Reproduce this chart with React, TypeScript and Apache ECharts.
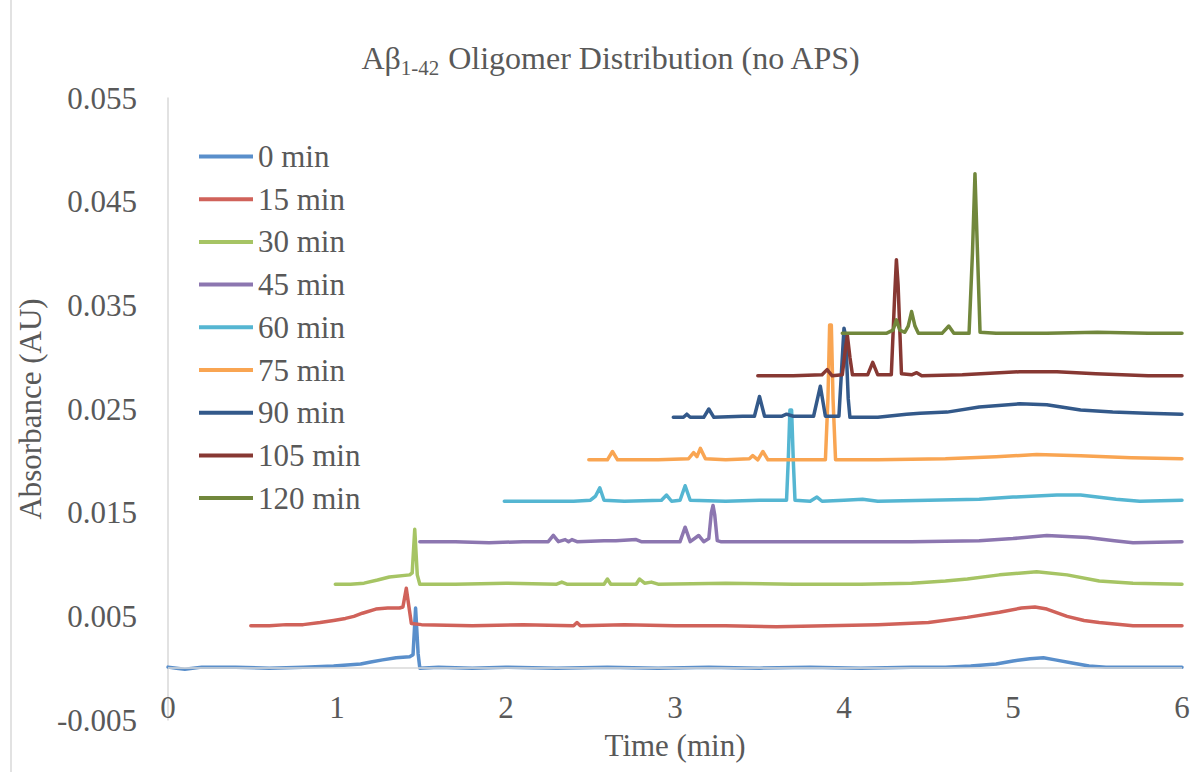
import React, { useEffect, useRef } from 'react';
import * as echarts from 'echarts';

const FONT = '"Liberation Serif", "Times New Roman", serif';
const TEXT = '#595959';
const AXIS_GRAY = '#d9d9d9';

const titleMain = 'Aβ';
const titleSub = '1-42';
const titleRest = ' Oligomer Distribution (no APS)';
const xAxisName = 'Time (min)';
const yAxisName = 'Absorbance (AU)';

const seriesNames = ['0 min', '15 min', '30 min', '45 min', '60 min', '75 min', '90 min', '105 min', '120 min'];
const seriesColors = ['#5A8FCB', '#D0625A', '#A6C464', '#8C76B0', '#55B6D2', '#F9A552', '#33598A', '#873833', '#71873C'];

const t0: [number, number][] = [
  [0, 0.0001], [0.05, 0.0], [0.1, -0.0001], [0.2, 0.0001], [0.4, 0.0001], [0.6, 0.0], [0.8, 0.0001],
  [0.98, 0.0002], [1.06, 0.0003], [1.14, 0.0004], [1.2, 0.0006], [1.27, 0.0008], [1.35, 0.001],
  [1.43, 0.0011], [1.45, 0.0013], [1.465, 0.0058], [1.48, 0.0014], [1.49, 0.0], [1.6, 0.0001],
  [1.8, 0.0], [2.0, 0.0001], [2.3, 0.0], [2.6, 0.0001], [2.9, 0.0], [3.2, 0.0001], [3.5, 0.0],
  [3.8, 0.0001], [4.1, 0.0], [4.4, 0.0001], [4.6, 0.0001], [4.75, 0.0002], [4.9, 0.0004],
  [5.0, 0.0007], [5.1, 0.0009], [5.18, 0.001], [5.25, 0.0008], [5.35, 0.0005], [5.45, 0.0002],
  [5.55, 0.0001], [5.8, 0.0001], [6, 0.0001],
];

const t15: [number, number][] = [
  [0.49, 0.0041], [0.6, 0.0041], [0.7, 0.0042], [0.8, 0.0042], [0.9, 0.0044], [0.98, 0.0046],
  [1.05, 0.0048], [1.1, 0.005], [1.15, 0.0053], [1.23, 0.0057], [1.3, 0.0058], [1.37, 0.0058],
  [1.39, 0.0059], [1.41, 0.0077], [1.425, 0.006], [1.44, 0.0043], [1.5, 0.0042], [1.8, 0.0041],
  [2.1, 0.0042], [2.4, 0.0041], [2.42, 0.0044], [2.44, 0.0041], [2.7, 0.0042], [3.0, 0.0041],
  [3.3, 0.0041], [3.6, 0.004], [3.9, 0.0041], [4.2, 0.0042], [4.5, 0.0044], [4.73, 0.0049],
  [4.92, 0.0054], [5.05, 0.0058], [5.13, 0.0059], [5.2, 0.0057], [5.32, 0.005], [5.42, 0.0046],
  [5.51, 0.0044], [5.71, 0.0041], [6, 0.0041],
];

const t30: [number, number][] = [
  [0.99, 0.0081], [1.08, 0.0081], [1.16, 0.0082], [1.24, 0.0085], [1.31, 0.0088], [1.43, 0.009],
  [1.445, 0.0092], [1.46, 0.0134], [1.475, 0.009], [1.49, 0.0081], [1.7, 0.0081], [2.0, 0.0082],
  [2.3, 0.0081], [2.33, 0.0083], [2.36, 0.0081], [2.58, 0.0081], [2.6, 0.0086], [2.62, 0.0081],
  [2.77, 0.0081], [2.79, 0.0086], [2.82, 0.0082], [2.86, 0.0083], [2.9, 0.0081], [3.3, 0.0082],
  [3.7, 0.0081], [4.1, 0.0081], [4.4, 0.0082], [4.6, 0.0084], [4.73, 0.0086], [4.92, 0.009],
  [5.14, 0.0093], [5.32, 0.009], [5.51, 0.0084], [5.71, 0.0082], [6, 0.0081],
];

const t45: [number, number][] = [
  [1.49, 0.0122], [1.7, 0.0122], [1.9, 0.0121], [2.1, 0.0122], [2.25, 0.0122], [2.28, 0.0128],
  [2.31, 0.0122], [2.35, 0.0124], [2.37, 0.0122], [2.39, 0.0124], [2.42, 0.0122], [2.58, 0.0123],
  [2.65, 0.0123], [2.77, 0.0124], [2.8, 0.0122], [3.03, 0.0122], [3.06, 0.0136], [3.09, 0.0122],
  [3.14, 0.0128], [3.17, 0.0122], [3.2, 0.0125], [3.215, 0.015], [3.225, 0.0157], [3.235, 0.0148],
  [3.25, 0.0123], [3.27, 0.0122], [3.6, 0.0122], [4.0, 0.0122], [4.4, 0.0122], [4.8, 0.0123],
  [5.0, 0.0125], [5.2, 0.0128], [5.44, 0.0126], [5.6, 0.0123], [5.71, 0.0121], [6, 0.0122],
];

const t60: [number, number][] = [
  [1.99, 0.0161], [2.2, 0.0161], [2.4, 0.0161], [2.5, 0.0162], [2.53, 0.0166], [2.555, 0.0174],
  [2.58, 0.0162], [2.7, 0.0161], [2.92, 0.0162], [2.95, 0.0167], [2.98, 0.0161], [3.03, 0.0162],
  [3.06, 0.0176], [3.09, 0.0162], [3.3, 0.0161], [3.5, 0.0162], [3.66, 0.0162], [3.67, 0.02],
  [3.68, 0.0249], [3.69, 0.0249], [3.7, 0.02], [3.71, 0.0162], [3.8, 0.0161], [3.84, 0.0165],
  [3.87, 0.0161], [4.0, 0.0162], [4.11, 0.0163], [4.2, 0.0161], [4.5, 0.0162], [4.8, 0.0163],
  [5.0, 0.0165], [5.26, 0.0167], [5.4, 0.0167], [5.61, 0.0163], [5.75, 0.0161], [6, 0.0162],
];

const t75: [number, number][] = [
  [2.49, 0.0201], [2.6, 0.0201], [2.63, 0.0209], [2.66, 0.0201], [2.9, 0.0201], [3.08, 0.0202],
  [3.11, 0.0208], [3.13, 0.0204], [3.15, 0.0212], [3.18, 0.0202], [3.3, 0.0201], [3.44, 0.0202],
  [3.46, 0.0205], [3.49, 0.0201], [3.52, 0.0209], [3.55, 0.0201], [3.7, 0.0201], [3.89, 0.0201],
  [3.905, 0.026], [3.915, 0.0331], [3.925, 0.0331], [3.935, 0.026], [3.95, 0.0201], [4.2, 0.0201],
  [4.6, 0.0202], [4.9, 0.0204], [5.14, 0.0206], [5.4, 0.0205], [5.7, 0.0203], [6, 0.0202],
];

const t90: [number, number][] = [
  [2.99, 0.0242], [3.05, 0.0242], [3.07, 0.0245], [3.09, 0.0242], [3.17, 0.0242], [3.2, 0.025],
  [3.23, 0.0242], [3.4, 0.0243], [3.47, 0.0243], [3.5, 0.0262], [3.53, 0.0243], [3.63, 0.0243],
  [3.66, 0.0245], [3.7, 0.0243], [3.82, 0.0243], [3.86, 0.0272], [3.89, 0.0243], [3.97, 0.0243],
  [3.99, 0.03], [4.0, 0.0328], [4.01, 0.032], [4.025, 0.026], [4.035, 0.0242], [4.2, 0.0242],
  [4.37, 0.0245], [4.45, 0.0246], [4.61, 0.0247], [4.8, 0.0252], [5.04, 0.0255], [5.2, 0.0254],
  [5.4, 0.0249], [5.59, 0.0247], [5.79, 0.0246], [6, 0.0245],
];

const t105: [number, number][] = [
  [3.49, 0.0282], [3.7, 0.0282], [3.87, 0.0283], [3.9, 0.0288], [3.93, 0.0282], [3.99, 0.0283],
  [4.01, 0.031], [4.02, 0.0321], [4.035, 0.03], [4.05, 0.0283], [4.14, 0.0283], [4.17, 0.0295],
  [4.2, 0.0283], [4.28, 0.0283], [4.3, 0.036], [4.31, 0.0394], [4.32, 0.037], [4.34, 0.0284],
  [4.4, 0.0283], [4.43, 0.0285], [4.46, 0.0282], [4.7, 0.0283], [5.04, 0.0286], [5.26, 0.0286],
  [5.49, 0.0284], [5.8, 0.0282], [6, 0.0282],
];

const t120: [number, number][] = [
  [3.99, 0.0323], [4.1, 0.0323], [4.25, 0.0323], [4.29, 0.0326], [4.31, 0.0336], [4.33, 0.0326],
  [4.36, 0.0324], [4.38, 0.033], [4.4, 0.0344], [4.42, 0.033], [4.44, 0.0323], [4.58, 0.0323],
  [4.62, 0.033], [4.65, 0.0323], [4.74, 0.0323], [4.76, 0.04], [4.775, 0.0477], [4.79, 0.04],
  [4.805, 0.0324], [4.9, 0.0323], [5.2, 0.0323], [5.5, 0.0324], [5.8, 0.0323], [6, 0.0323],
];

const traces = [t0, t15, t30, t45, t60, t75, t90, t105, t120];
const zeroLineValue = 0;

export default function App() {
  const ref = useRef<HTMLDivElement>(null);
  useEffect(() => {
    if (!ref.current) return;
    const chart = echarts.init(ref.current, null, { renderer: 'svg' });
    const series: any[] = [
      {
        type: 'line',
        name: 'zero-axis',
        data: [],
        z: 1,
        silent: true,
        markLine: {
          silent: true,
          symbol: ['none', 'none'],
          label: { show: false },
          lineStyle: { color: AXIS_GRAY, width: 1.5, type: 'solid' },
          emphasis: { disabled: true },
          data: [{ yAxis: zeroLineValue }],
        },
      },
      ...seriesNames.map((name, i) => ({
        type: 'line',
        name,
        data: traces[i],
        z: 2,
        showSymbol: false,
        symbol: 'none',
        lineStyle: { width: 3.5, color: seriesColors[i], cap: 'round', join: 'round' },
        itemStyle: { color: seriesColors[i] },
        emphasis: { disabled: true },
      })),
    ];
    chart.setOption({
      animation: false,
      backgroundColor: '#ffffff',
      grid: { left: 168, right: 14, top: 98, bottom: 52, containLabel: false, outerBoundsMode: 'none' },
      graphic: [
        {
          type: 'line',
          shape: { x1: 11, y1: 0, x2: 11, y2: 772 },
          style: { stroke: AXIS_GRAY, lineWidth: 1.5 },
          silent: true,
        },
        {
          type: 'text',
          x: 611,
          y: 58,
          style: {
            text: `{a|${titleMain}}{sub|${titleSub}}{a|${titleRest}}`,
            align: 'center',
            verticalAlign: 'middle',
            rich: {
              a: { fontFamily: FONT, fontSize: 32, lineHeight: 40, fill: TEXT, color: TEXT },
              sub: { fontFamily: FONT, fontSize: 21, lineHeight: 20, verticalAlign: 'bottom', fill: TEXT, color: TEXT },
            },
          },
          silent: true,
        },
      ],
      legend: {
        orient: 'vertical',
        left: 194,
        top: 136,
        itemWidth: 54,
        itemHeight: 4,
        itemGap: 11.7,
        icon: 'rect',
        data: seriesNames,
        textStyle: { fontFamily: FONT, fontSize: 31, lineHeight: 31, color: TEXT },
      },
      xAxis: {
        type: 'value',
        min: 0,
        max: 6,
        interval: 1,
        name: xAxisName,
        nameLocation: 'middle',
        nameGap: 10,
        nameTextStyle: { fontFamily: FONT, fontSize: 31, color: TEXT },
        axisLine: { show: false, onZero: false },
        axisTick: { show: false },
        axisLabel: { margin: -28, fontFamily: FONT, fontSize: 31, color: TEXT },
        splitLine: { show: false },
      },
      yAxis: {
        type: 'value',
        min: -0.005,
        max: 0.055,
        interval: 0.01,
        name: yAxisName,
        nameLocation: 'middle',
        nameGap: 109,
        nameTextStyle: { fontFamily: FONT, fontSize: 31, color: TEXT },
        axisLine: { show: true, onZero: false, lineStyle: { color: AXIS_GRAY, width: 1.5 } },
        axisTick: { show: false },
        axisLabel: {
          margin: 31,
          fontFamily: FONT,
          fontSize: 31,
          color: TEXT,
          formatter: (v: number) => v.toFixed(3),
        },
        splitLine: { show: false },
      },
      series,
    });
    return () => chart.dispose();
  }, []);
  return (
    <div
      ref={ref}
      style={{ position: 'fixed', left: 0, top: 0, width: 1196, height: 772, background: '#fff' }}
    />
  );
}
